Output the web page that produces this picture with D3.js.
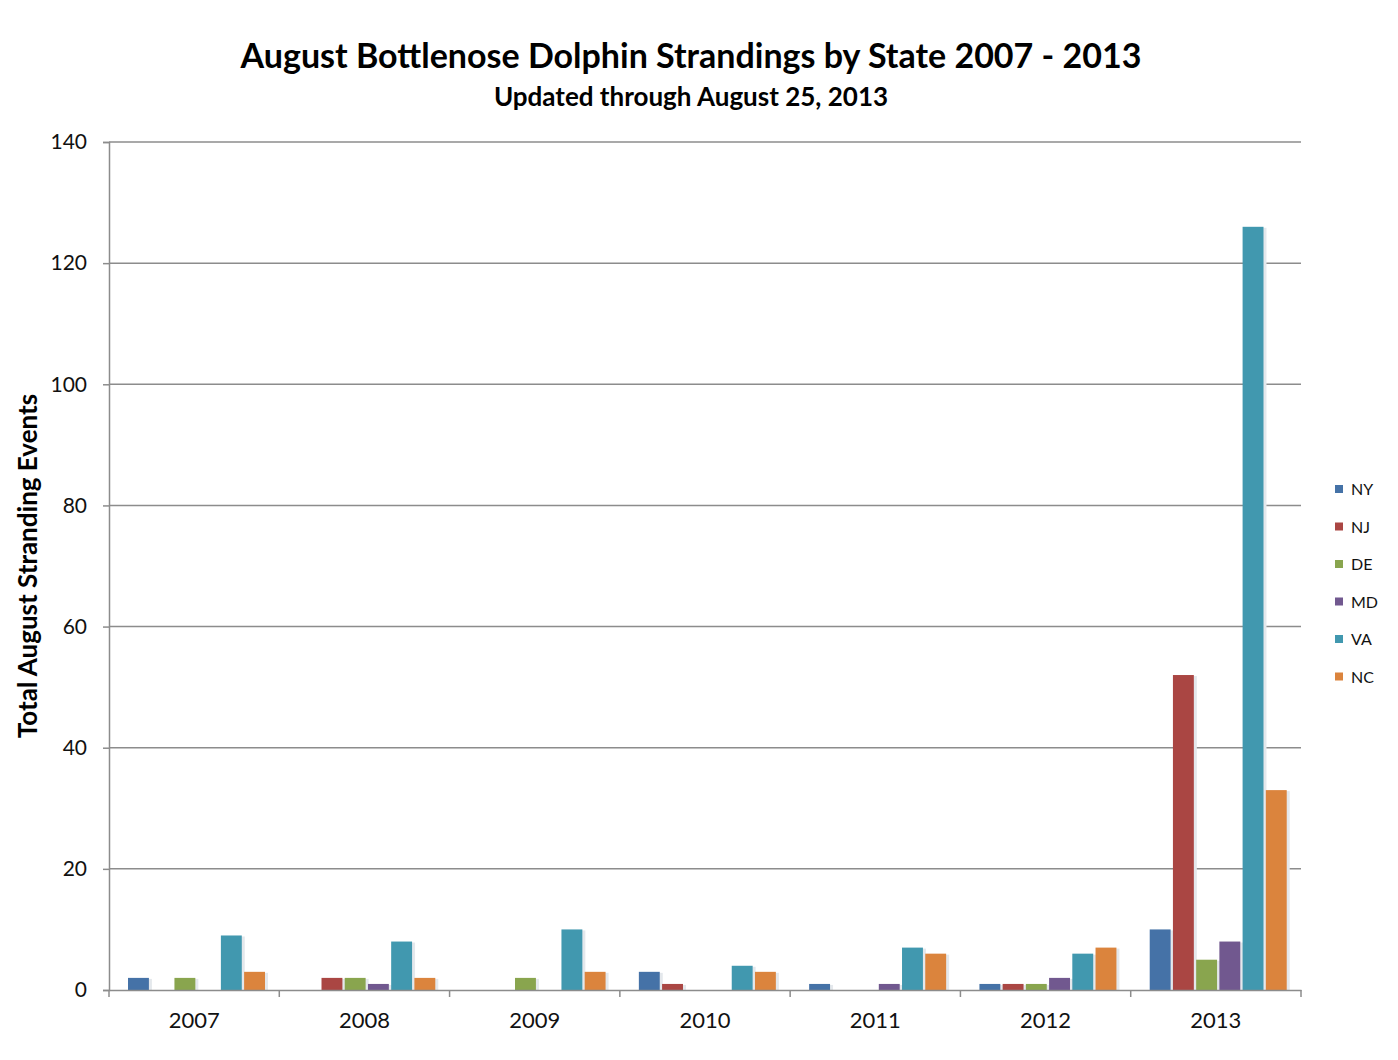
<!DOCTYPE html>
<html>
<head>
<meta charset="utf-8">
<script src="https://cdn.jsdelivr.net/npm/d3@7"></script>
<style>
body { margin: 0; background: #fff; }
text { font-family: Lato, "Open Sans", sans-serif; }
</style>
</head>
<body>
<div id="chart"></div>
<script>
var years = ["2007", "2008", "2009", "2010", "2011", "2012", "2013"];
var states = ["NY", "NJ", "DE", "MD", "VA", "NC"];
var colors = ["#4572A7", "#AA4643", "#89A54E", "#71588F", "#4198AF", "#DB843D"];
// one array per state, one value per year
var ny = [2, 0, 0, 3, 1, 1, 10];
var nj = [0, 2, 0, 1, 0, 1, 52];
var de = [2, 2, 2, 0, 0, 1, 5];
var md = [0, 1, 0, 0, 1, 2, 8];
var va = [9, 8, 10, 4, 7, 6, 126];
var nc = [3, 2, 3, 3, 6, 7, 33];
var yTicks = [0, 20, 40, 60, 80, 100, 120, 140];

var series = [ny, nj, de, md, va, nc];
var width = 1398, height = 1060;
//plot area edges (avoid "top", it is window.top)
var plotL = 109, plotR = 1301, plotT = 142, plotB = 990;

var svg = d3.select("#chart").append("svg")
    .attr("width", width)
    .attr("height", height);

var x0 = d3.scaleBand().domain(years).range([plotL, plotR]);
var x1 = d3.scaleBand().domain(states).range([19, 156]).paddingInner(0.1);
var y = d3.scaleLinear().domain([0, 140]).range([plotB, plotT]);

//gridlines
svg.append("g").selectAll("line")
    .data(yTicks.slice(1))
    .enter().append("line")
    .attr("x1", plotL).attr("x2", plotR)
    .attr("y1", function(d) { return y(d); })
    .attr("y2", function(d) { return y(d); })
    .attr("stroke", "#8c8c8c")
    .attr("stroke-width", 1.5);

//bars: flatten into year/state records
var bars = [];
years.forEach(function(yr, i) {
    states.forEach(function(st, j) {
        bars.push({year: yr, state: st, value: series[j][i], color: colors[j]});
    });
});
bars = bars.filter(function(d) { return d.value > 0; });
var barG = svg.append("g");
barG.selectAll("rect.shadow")
    .data(bars)
    .enter().append("rect")
    .attr("class", "shadow")
    .attr("x", function(d) { return x0(d.year) + x1(d.state) + 1; })
    .attr("y", function(d) { return y(d.value) + 1; })
    .attr("width", x1.bandwidth() + 2)
    .attr("height", function(d) { return plotB - y(d.value); })
    .attr("fill", "#e4e8ec");
barG.selectAll("rect.bar")
    .data(bars)
    .enter().append("rect")
    .attr("class", "bar")
    .attr("x", function(d) { return x0(d.year) + x1(d.state); })
    .attr("y", function(d) { return y(d.value); })
    .attr("width", x1.bandwidth())
    .attr("height", function(d) { return plotB - y(d.value); })
    .attr("fill", function(d) { return d.color; });

//y axis
var yAxis = svg.append("g")
    .attr("transform", "translate(" + plotL + ",0)")
    .call(d3.axisLeft(y).tickValues(yTicks).tickSize(6).tickPadding(16));
yAxis.select(".domain").attr("stroke", "#8c8c8c").attr("stroke-width", 1.5);
yAxis.selectAll(".tick line").attr("stroke", "#8c8c8c").attr("stroke-width", 1.5);
yAxis.selectAll("text").attr("font-size", 21).attr("fill", "#111")
    .style("font-family", "Lato, sans-serif");

//x axis
var xAxis = svg.append("g")
    .attr("transform", "translate(0," + plotB + ")")
    .call(d3.axisBottom(x0).tickSize(0).tickPadding(22));
xAxis.select(".domain").attr("stroke", "#8c8c8c").attr("stroke-width", 1.5);
xAxis.selectAll("text").attr("font-size", 22).attr("fill", "#111")
    .style("font-family", "Lato, sans-serif");
svg.append("g").selectAll("line")
    .data(d3.range(years.length + 1))
    .enter().append("line")
    .attr("x1", function(i) { return plotL + i * x0.step(); })
    .attr("x2", function(i) { return plotL + i * x0.step(); })
    .attr("y1", plotB).attr("y2", plotB + 7)
    .attr("stroke", "#8c8c8c").attr("stroke-width", 1.5);

//titles
svg.append("text")
    .attr("x", 691).attr("y", 68)
    .attr("text-anchor", "middle")
    .attr("font-size", 34).attr("font-weight", "bold")
    .text("August Bottlenose Dolphin Strandings by State 2007 - 2013");
svg.append("text")
    .attr("x", 691).attr("y", 106)
    .attr("text-anchor", "middle")
    .attr("font-size", 26).attr("font-weight", "bold")
    .text("Updated through August 25, 2013");
svg.append("text")
    .attr("transform", "translate(37,566) rotate(-90)")
    .attr("text-anchor", "middle")
    .attr("font-size", 26).attr("font-weight", "bold")
    .text("Total August Stranding Events");

//legend
var legend = svg.append("g").selectAll("g")
    .data(states)
    .enter().append("g")
    .attr("transform", function(d, i) { return "translate(1335," + (489 + i * 37.5) + ")"; });
legend.append("rect")
    .attr("x", 0).attr("y", -4)
    .attr("width", 8).attr("height", 8)
    .attr("fill", function(d, i) { return colors[i]; });
legend.append("text")
    .attr("x", 16).attr("y", 6)
    .attr("font-size", 16).attr("fill", "#111")
    .text(function(d) { return d; });
</script>
</body>
</html>
